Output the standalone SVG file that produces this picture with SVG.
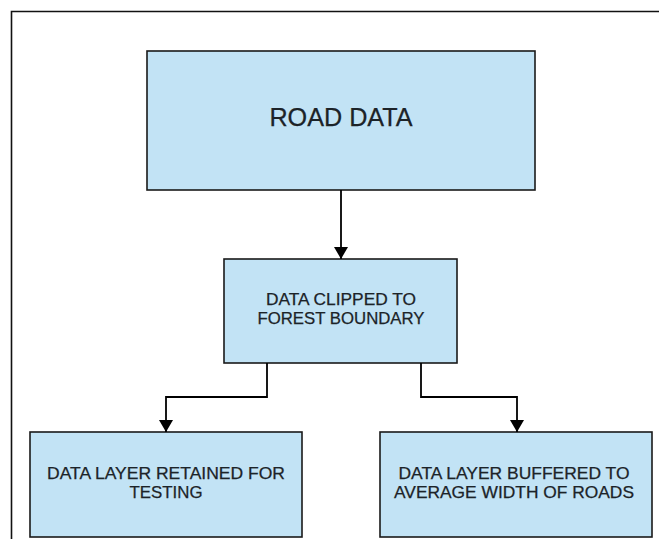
<svg xmlns="http://www.w3.org/2000/svg" width="659" height="539" viewBox="0 0 659 539">
<style>
.box{fill:#c2e3f5;stroke:#1a1a1a;stroke-width:1.6}
.t{font-family:"Liberation Sans",Arial,sans-serif;fill:#1c2328;text-anchor:middle;stroke:#1c2328;stroke-width:0.25}
.s{font-size:16.4px}
.conn{fill:none;stroke:#000;stroke-width:1.8}
</style>
<defs>
<marker id="ah" markerWidth="12" markerHeight="14" refX="10" refY="5" orient="auto" markerUnits="userSpaceOnUse" viewBox="0 0 10 10" preserveAspectRatio="none">
<path d="M0,0 L10,5 L0,10 Z" fill="#000"/>
</marker>
</defs>
<rect width="659" height="539" fill="#fff"/>
<path d="M11.5,545 V11.5 H665" fill="none" stroke="#111" stroke-width="1.6"/>
<g id="road-data">
<rect class="box" x="147" y="51" width="388" height="139"/>
<text class="t" x="341" y="126" font-size="25.2">ROAD DATA</text>
</g>
<g id="clipped">
<rect class="box" x="224" y="259" width="233" height="104"/>
<text class="t s" x="341" y="305" textLength="150" lengthAdjust="spacingAndGlyphs">DATA CLIPPED TO</text>
<text class="t s" x="341" y="324" textLength="167" lengthAdjust="spacingAndGlyphs">FOREST BOUNDARY</text>
</g>
<g id="retained">
<rect class="box" x="30" y="432" width="272" height="105"/>
<text class="t s" x="166" y="479" textLength="238" lengthAdjust="spacingAndGlyphs">DATA LAYER RETAINED FOR</text>
<text class="t s" x="166" y="498" textLength="73" lengthAdjust="spacingAndGlyphs">TESTING</text>
</g>
<g id="buffered">
<rect class="box" x="380" y="432" width="272" height="105"/>
<text class="t s" x="514" y="479" textLength="231" lengthAdjust="spacingAndGlyphs">DATA LAYER BUFFERED TO</text>
<text class="t s" x="514" y="498" textLength="240" lengthAdjust="spacingAndGlyphs">AVERAGE WIDTH OF ROADS</text>
</g>
<g id="connectors">
<path class="conn" d="M341,190 V259" marker-end="url(#ah)"/>
<path class="conn" d="M267,363 V397 H166 V432" marker-end="url(#ah)"/>
<path class="conn" d="M421,363 V397 H517 V432" marker-end="url(#ah)"/>
</g>
</svg>
